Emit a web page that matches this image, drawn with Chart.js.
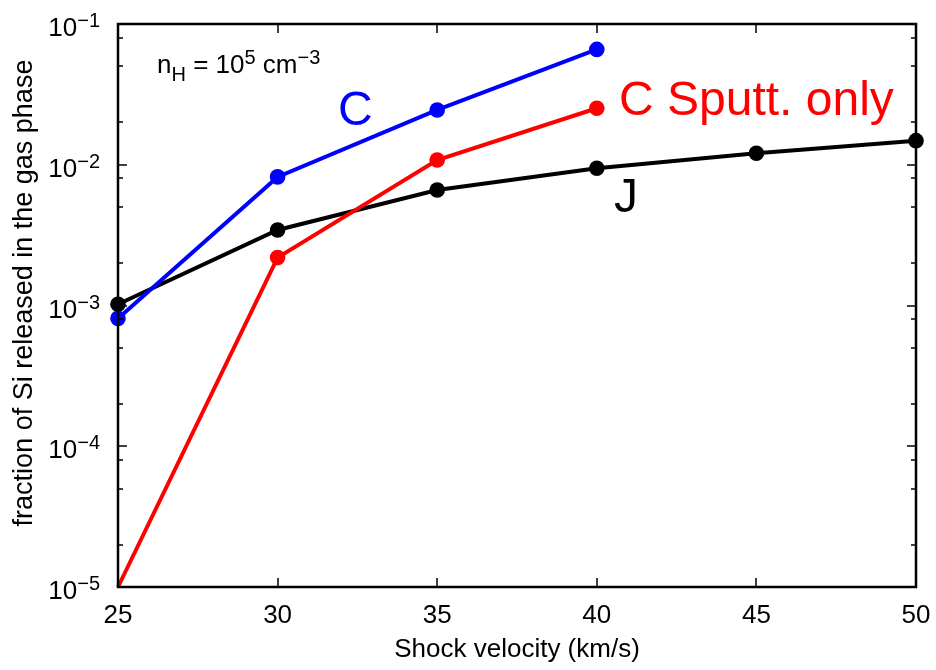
<!DOCTYPE html>
<html>
<head>
<meta charset="utf-8">
<script src="https://cdn.jsdelivr.net/npm/chart.js@4"></script>
<style>
  body { margin: 0; background: #fff; }
  #wrap { width: 936px; height: 670px; }
</style>
</head>
<body>
<div id="wrap"><canvas id="siChart" width="936" height="670"></canvas></div>
<script>
// shock velocity (km/s)
const velocities = [25, 30, 35, 40, 45, 50];
// fraction of Si released in the gas phase
const cShock = [8.1e-4, 8.2e-3, 0.0245, 0.066];
const cSputtOnly = [1e-5, 2.19e-3, 0.0108, 0.0252];
const jShock = [1.02e-3, 3.44e-3, 6.62e-3, 9.44e-3, 0.01206, 0.01483];

const xTicks = [25, 30, 35, 40, 45, 50];
const yExponents = [-5, -4, -3, -2, -1];
const yMinorSteps = [2, 5, 8];

const fontFamily = '"Liberation Sans", Arial, sans-serif';
const toPoints = (vals) => vals.map((v, i) => ({ x: velocities[i], y: v }));

// draws pieces one after another, each with its own size and baseline shift
function drawRich(ctx, x, y, pieces) {
  pieces.forEach(([text, size, dy]) => {
    ctx.font = size + 'px ' + fontFamily;
    ctx.fillText(text, x, y + dy);
    x += ctx.measureText(text).width;
  });
}

// gnuplot style frame, inward ticks and all texts
const framePlugin = {
  id: 'frame',
  afterDraw: (chart) => {
    const { ctx, chartArea: a, scales } = chart;
    const xs = scales.x, ys = scales.y;
    ctx.save();
    ctx.strokeStyle = '#000';
    ctx.lineWidth = 2.5;
    ctx.strokeRect(a.left, a.top, a.right - a.left, a.bottom - a.top);

    ctx.lineWidth = 1.5;
    ctx.beginPath();
    xTicks.forEach(v => {
      const px = Math.round(xs.getPixelForValue(v));
      ctx.moveTo(px, a.bottom); ctx.lineTo(px, a.bottom - 9);
      ctx.moveTo(px, a.top); ctx.lineTo(px, a.top + 9);
    });
    yExponents.forEach(e => {
      const py = Math.round(ys.getPixelForValue(Math.pow(10, e)));
      ctx.moveTo(a.left, py); ctx.lineTo(a.left + 9, py);
      ctx.moveTo(a.right, py); ctx.lineTo(a.right - 9, py);
      if (e < -1) {
        yMinorSteps.forEach(m => {
          const my = Math.round(ys.getPixelForValue(m * Math.pow(10, e)));
          ctx.moveTo(a.left, my); ctx.lineTo(a.left + 5, my);
          ctx.moveTo(a.right, my); ctx.lineTo(a.right - 5, my);
        });
      }
    });
    ctx.stroke();

    // tick labels
    ctx.fillStyle = '#000';
    ctx.textAlign = 'center';
    ctx.textBaseline = 'alphabetic';
    ctx.font = '26px ' + fontFamily;
    xTicks.forEach(v => ctx.fillText(String(v), xs.getPixelForValue(v), 623));

    yExponents.forEach(e => {
      const py = ys.getPixelForValue(Math.pow(10, e));
      const sup = '\u2212' + Math.abs(e);
      ctx.textAlign = 'right';
      ctx.font = '20px ' + fontFamily;
      const w = ctx.measureText(sup).width;
      ctx.fillText(sup, 100, py + 3);
      ctx.font = '26px ' + fontFamily;
      ctx.fillText('10', 100 - w, py + 12);
    });

    // axis titles
    ctx.textAlign = 'center';
    ctx.font = '26px ' + fontFamily;
    ctx.fillText('Shock velocity (km/s)', (a.left + a.right) / 2, 657);
    ctx.save();
    ctx.translate(32, 293);
    ctx.rotate(-Math.PI / 2);
    ctx.font = '27px ' + fontFamily;
    ctx.fillText('fraction of Si released in the gas phase', 0, 0);
    ctx.restore();

    // density label n_H = 10^5 cm^-3
    ctx.textAlign = 'left';
    drawRich(ctx, 157, 73, [
      ['n', 26, 0], ['H', 20, 8], [' = 10', 26, 0], ['5', 20, -9],
      [' cm', 26, 0], ['\u22123', 20, -9]
    ]);

    // curve labels
    ctx.font = '48px ' + fontFamily;
    ctx.fillStyle = '#0000ff';
    ctx.fillText('C', 338, 125);
    ctx.fillStyle = '#ff0000';
    ctx.fillText('C Sputt. only', 619, 115);
    ctx.fillStyle = '#000';
    ctx.fillText('J', 614, 212);
    ctx.restore();
  }
};

const lineSet = (label, vals, color, radii) => ({
  label,
  data: toPoints(vals),
  borderColor: color,
  backgroundColor: color,
  borderWidth: 4,
  pointRadius: radii || 7.8,
  pointHoverRadius: radii || 7.8,
  pointBorderWidth: 0,
  tension: 0,
  clip: false
});

new Chart(document.getElementById('siChart'), {
  type: 'line',
  data: {
    datasets: [
      lineSet('C', cShock, '#0000ff'),
      lineSet('C Sputt. only', cSputtOnly, '#ff0000', [0, 7.8, 7.8, 7.8]),
      lineSet('J', jShock, '#000000')
    ]
  },
  options: {
    responsive: false,
    animation: false,
    devicePixelRatio: 1,
    layout: { padding: { left: 118, top: 24, right: 20, bottom: 83 } },
    plugins: {
      legend: { display: false },
      tooltip: { enabled: false }
    },
    scales: {
      x: { type: 'linear', min: 25, max: 50, display: false },
      y: { type: 'logarithmic', min: 1e-5, max: 1e-1, display: false }
    }
  },
  plugins: [framePlugin]
});
</script>
</body>
</html>
